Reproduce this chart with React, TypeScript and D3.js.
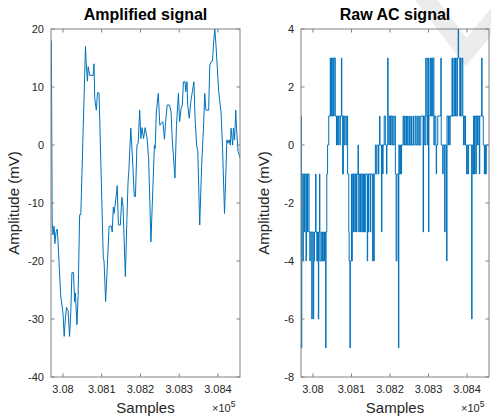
import React from "react";
import * as d3 from "d3";

// ---- Data ----
const xTicks = [308000, 308100, 308200, 308300, 308400];
const xTickLabels = ["3.08", "3.081", "3.082", "3.083", "3.084"];
const xDomain = [307969, 308457];

const ampYTicks = [20, 10, 0, -10, -20, -30, -40];
const rawYTicks = [4, 2, 0, -2, -4, -6, -8];

// Amplified signal: [sample, mV]
const ampSignal: [number, number][] = [
  [307970, 18], [307972, -13], [307974, -15.5], [307977, -14], [307979, -17], [307982, -15], [307985, -14.5], [307987, -16.5],
  [307994, -26], [308000, -29], [308003, -33], [308006, -30], [308009, -28], [308013, -28.5], [308017, -33], [308020, -29],
  [308023, -22], [308027, -22], [308030, -27], [308032, -25.5], [308036, -31], [308039, -26], [308043, -12], [308046, -12],
  [308058, 17], [308060, 14], [308063, 11], [308065, 13.5], [308069, 12], [308078, 12], [308080, 14], [308082, 8],
  [308086, 6], [308089, 9], [308093, 9], [308095, 4], [308104, -19.5], [308106, -20], [308110, -27], [308115, -20],
  [308119, -14], [308125, -14], [308127, -15], [308130, -10.7], [308132, -11.8], [308137, -8.9], [308140, -7], [308143, -13.8],
  [308148, -13.8], [308152, -9], [308155, -10.5], [308158, -16.7], [308161, -22.7], [308165, -12.7], [308168, -6.3], [308170, -4.5],
  [308175, 2.9], [308179, -1.7], [308184, -8.9], [308187, -8.9], [308191, 0], [308194, 0.3], [308198, 6], [308201, 1.1],
  [308204, 3], [308208, 1.1], [308212, 3], [308217, 1.2], [308221, -2.3], [308227, -16.7], [308232, -7.5], [308236, 0],
  [308238, -0.6], [308241, 5.7], [308246, 8.9], [308250, 3.4], [308253, 3.7], [308258, 4], [308262, 1], [308265, 4],
  [308269, 6.9], [308275, 6.9], [308279, 5.7], [308282, 1], [308289, -5.7], [308293, 3.4], [308298, 8.9], [308301, 4],
  [308305, 6.3], [308308, 6.9], [308311, 10.9], [308315, 10.9], [308317, 9.2], [308320, 10.9], [308322, 6.9], [308326, 4.6],
  [308330, 7.5], [308334, 9.2], [308338, 10.9], [308341, 4.6], [308345, 0], [308348, -1.1], [308353, -13.8], [308358, -3.4],
  [308363, 3.4], [308366, 8.9], [308369, 6], [308376, 6], [308379, 13.8], [308384, 14.5], [308386, 14.5], [308389, 17.8],
  [308392, 20], [308395, 17.2], [308399, 12.6], [308402, 9.2], [308408, 5.7], [308412, -0.6], [308417, -11.8], [308421, -4],
  [308423, 0.9], [308426, 0.3], [308429, 0.9], [308432, 0], [308434, 2.9], [308438, 0], [308440, 2.9], [308443, 0.9],
  [308446, 6], [308448, 2.9], [308452, -1.1], [308455, -1.7], [308458, -2.3],
];

// Raw AC signal: change points [sample, mV] (value held until next point)
const rawSignal: [number, number][] = [
  [307969, 1], [307970, -7], [307971, -1], [307974, -4], [307975, -1], [307978, -3], [307979, -1], [307982, -4], [307983, -1],
  [307986, -3], [307987, -1], [307990, -3], [307992, -4], [307993, -3], [307997, -6], [307998, -3], [308001, -6], [308002, -4],
  [308004, -3], [308007, -1], [308008, -3], [308010, -4], [308012, -3], [308014, -6], [308015, -3], [308017, -1], [308018, -4],
  [308021, -3], [308023, -4], [308025, -3], [308027, -4], [308030, -3], [308033, -7], [308034, -3], [308036, -1], [308038, 0],
  [308041, 1], [308045, 3], [308046, 1], [308048, 3], [308050, 1], [308052, 3], [308054, 1], [308055, 3], [308058, 1],
  [308061, 0], [308062, 1], [308064, 0], [308066, 1], [308070, 0], [308071, 1], [308074, 3], [308075, 1], [308077, -1],
  [308079, 1], [308081, 0], [308083, 1], [308086, 0], [308088, 1], [308090, -1], [308093, -3], [308094, -4], [308096, -7],
  [308097, -4], [308100, -1], [308101, -4], [308102, -1], [308105, -3], [308106, -1], [308109, -3], [308110, -1], [308113, -3],
  [308114, -1], [308117, 0], [308118, -1], [308119, -3], [308120, -1], [308123, -3], [308124, -1], [308127, -3], [308128, -1],
  [308131, -3], [308132, -1], [308134, -3], [308136, -1], [308141, -4], [308142, -1], [308144, -3], [308145, -1], [308149, -3],
  [308150, -1], [308155, -4], [308156, -1], [308158, -4], [308159, -1], [308162, 0], [308164, -1], [308166, 0], [308170, -1],
  [308171, 0], [308173, 1], [308174, 0], [308178, -3], [308179, 0], [308181, -1], [308182, 0], [308185, 1], [308188, 0],
  [308191, -1], [308192, 0], [308194, 3], [308195, 1], [308197, 0], [308198, 1], [308201, 0], [308202, 1], [308205, 0],
  [308206, 1], [308208, 0], [308211, 1], [308214, -1], [308216, -4], [308218, -1], [308222, -7], [308223, 0], [308225, -1],
  [308227, 0], [308229, -1], [308230, 0], [308234, 1], [308236, 0], [308238, 1], [308239, 0], [308242, 1], [308243, 0],
  [308246, 1], [308247, 0], [308251, 1], [308252, 0], [308255, 1], [308256, 0], [308260, 1], [308261, 0], [308265, 1],
  [308267, 0], [308270, 1], [308272, 0], [308275, 1], [308276, 0], [308280, 1], [308286, -3], [308287, 1], [308290, 0],
  [308293, 3], [308294, 1], [308297, 0], [308298, 3], [308300, -3], [308301, 1], [308304, 3], [308305, 1], [308308, 3],
  [308310, 1], [308312, 3], [308314, 0], [308316, 1], [308319, 0], [308320, -1], [308321, 0], [308324, 1], [308332, 3],
  [308333, 0], [308337, -1], [308338, 0], [308342, -3], [308343, 0], [308347, -4], [308348, 1], [308351, 0], [308352, 1],
  [308355, 0], [308356, 1], [308361, 3], [308362, 1], [308366, 3], [308367, 1], [308370, 3], [308372, 1], [308375, 3],
  [308377, 4], [308378, 3], [308381, 1], [308383, 3], [308384, 1], [308387, 3], [308389, 1], [308391, 0], [308393, 1],
  [308396, 0], [308399, -1], [308400, 0], [308402, -1], [308404, 0], [308412, -6], [308413, 0], [308415, -1], [308417, 1],
  [308419, -1], [308420, 1], [308423, -1], [308424, 1], [308427, 0], [308429, 1], [308432, -1], [308433, 1], [308438, 3],
  [308439, 1], [308442, 0], [308445, -1], [308446, 0], [308448, -1], [308450, 0], [308457, 0],
];

const FONT = "'Liberation Sans', Arial, Helvetica, sans-serif";
const LINE = "#0072BD";
const AXIS = "#808080";
const TXT = "#262626";

const TOP = 29;
const BOTTOM = 377;

type PanelProps = {
  id: string;
  left: number;
  right: number;
  yDomain: [number, number];
  yTicks: number[];
  title: string;
  data: [number, number][];
  step: boolean;
};

function Panel({ id, left, right, yDomain, yTicks, title, data, step }: PanelProps) {
  const x = d3.scaleLinear().domain(xDomain).range([left, right]);
  const y = d3.scaleLinear().domain(yDomain).range([BOTTOM, TOP]);
  const line = d3
    .line<[number, number]>()
    .x((d) => x(d[0]))
    .y((d) => y(d[1]))
    .curve(step ? d3.curveStepAfter : d3.curveLinear);
  const tl = 3.5;
  const cx = (left + right) / 2;
  return (
    <g>
      <defs>
        <clipPath id={id}>
          <rect x={left} y={TOP} width={right - left} height={BOTTOM - TOP} />
        </clipPath>
      </defs>
      <path d={line(data) || ""} fill="none" stroke={LINE} strokeWidth={1} clipPath={`url(#${id})`} strokeLinejoin="round" />
      <rect x={left} y={TOP} width={right - left} height={BOTTOM - TOP} fill="none" stroke={AXIS} strokeWidth={1} />
      {xTicks.map((t, i) => (
        <g key={t}>
          <line x1={x(t)} x2={x(t)} y1={BOTTOM} y2={BOTTOM - tl} stroke={AXIS} />
          <line x1={x(t)} x2={x(t)} y1={TOP} y2={TOP + tl} stroke={AXIS} />
          <text x={x(t)} y={393} textAnchor="middle" fontSize={11} fontFamily={FONT} fill={TXT}>
            {xTickLabels[i]}
          </text>
        </g>
      ))}
      {yTicks.map((t) => (
        <g key={t}>
          <line x1={left} x2={left + tl} y1={y(t)} y2={y(t)} stroke={AXIS} />
          <line x1={right} x2={right - tl} y1={y(t)} y2={y(t)} stroke={AXIS} />
          <text x={left - 7} y={y(t) + 4} textAnchor="end" fontSize={11} fontFamily={FONT} fill={TXT}>
            {t}
          </text>
        </g>
      ))}
      <text x={cx} y={20} textAnchor="middle" fontSize={16} fontWeight="bold" fontFamily={FONT} fill="#000">
        {title}
      </text>
      <text x={cx} y={413} textAnchor="middle" fontSize={15} fontFamily={FONT} fill={TXT}>
        Samples
      </text>
      <text x={right - 28} y={412} fontSize={11} fontFamily={FONT} fill={TXT}>
        {"\u00d710"}
        <tspan dy={-5} fontSize={8.5}>5</tspan>
      </text>
      <text
        transform={`translate(${left - 32},${(TOP + BOTTOM) / 2}) rotate(-90)`}
        textAnchor="middle"
        fontSize={15}
        fontFamily={FONT}
        fill={TXT}
      >
        Amplitude (mV)
      </text>
    </g>
  );
}

export default function App() {
  return (
    <svg
      width={491}
      height={419}
      viewBox="0 0 491 419"
      style={{ position: "absolute", left: 0, top: 0, background: "#fff" }}
    >
      <rect width={491} height={419} fill="#fff" />
      <path d="M 420 -8 L 466 52 L 498 14" fill="none" stroke="#ececec" strokeWidth={18} strokeLinejoin="miter" />
      <Panel id="c1" left={51} right={240} yDomain={[-40, 20]} yTicks={ampYTicks} title="Amplified signal" data={ampSignal} step={false} />
      <Panel id="c2" left={301} right={489} yDomain={[-8, 4]} yTicks={rawYTicks} title="Raw AC signal" data={rawSignal} step={true} />
    </svg>
  );
}
